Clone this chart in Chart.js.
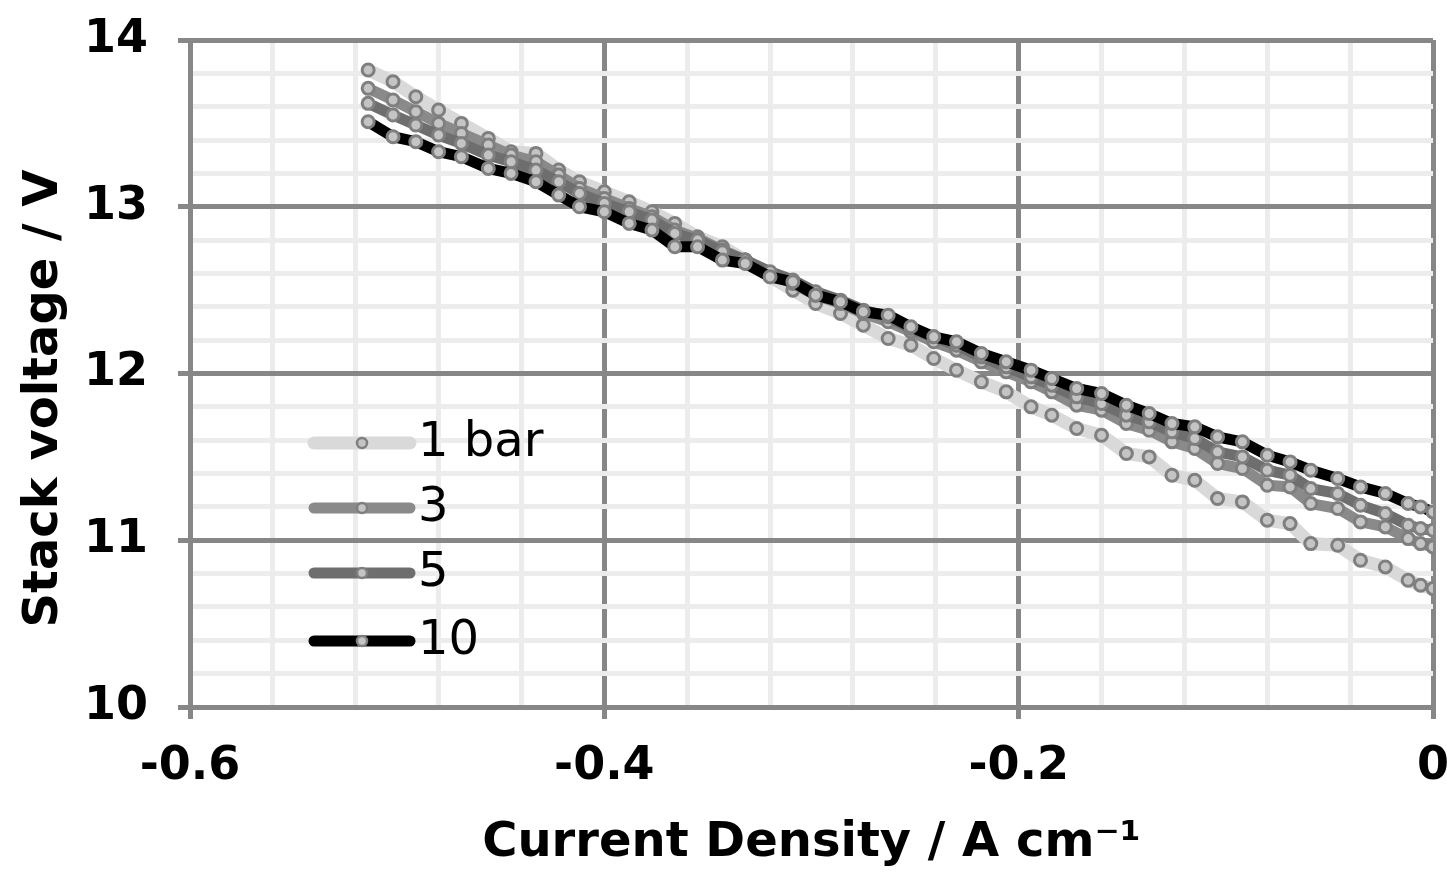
<!DOCTYPE html>
<html>
<head>
<meta charset="utf-8">
<script src="https://cdn.jsdelivr.net/npm/chart.js@4/dist/chart.umd.min.js"></script>
<style>
  html, body { margin: 0; padding: 0; background: #fff; }
  #wrap { width: 1447px; height: 874px; }
</style>
</head>
<body>
<div id="wrap"><canvas id="polChart" width="1447" height="874"></canvas></div>
<script>
// current density, A cm-1 (same for every pressure)
const currentDensity = [-0.514, -0.502, -0.491, -0.480, -0.469, -0.456, -0.445, -0.433, -0.422, -0.412,
  -0.400, -0.388, -0.377, -0.366, -0.355, -0.343, -0.332, -0.320, -0.309, -0.298,
  -0.286, -0.275, -0.263, -0.252, -0.241, -0.230, -0.218, -0.206, -0.194, -0.184,
  -0.172, -0.160, -0.148, -0.137, -0.126, -0.115, -0.104, -0.092, -0.080, -0.069,
  -0.059, -0.046, -0.035, -0.023, -0.012, -0.006, 0];

// stack voltage, V
const voltage1bar = [13.82, 13.75, 13.66, 13.58, 13.50, 13.41, 13.33, 13.32, 13.22, 13.15,
  13.09, 13.03, 12.97, 12.90, 12.82, 12.76, 12.68, 12.58, 12.50, 12.42,
  12.36, 12.29, 12.21, 12.17, 12.09, 12.02, 11.95, 11.89, 11.80, 11.75,
  11.67, 11.63, 11.52, 11.50, 11.39, 11.36, 11.25, 11.23, 11.12, 11.10,
  10.98, 10.97, 10.88, 10.84, 10.76, 10.73, 10.71];
const voltage3bar = [13.71, 13.64, 13.57, 13.50, 13.44, 13.37, 13.31, 13.27, 13.19, 13.11,
  13.05, 12.99, 12.94, 12.86, 12.81, 12.74, 12.68, 12.60, 12.54, 12.47,
  12.42, 12.36, 12.31, 12.25, 12.19, 12.14, 12.07, 12.01, 11.95, 11.89,
  11.81, 11.78, 11.70, 11.66, 11.59, 11.55, 11.46, 11.43, 11.33, 11.32,
  11.22, 11.19, 11.11, 11.08, 11.01, 10.98, 10.96];
const voltage5bar = [13.62, 13.55, 13.49, 13.43, 13.38, 13.31, 13.27, 13.22, 13.15, 13.08,
  13.02, 12.97, 12.92, 12.84, 12.80, 12.73, 12.68, 12.61, 12.56, 12.49,
  12.44, 12.38, 12.34, 12.27, 12.22, 12.17, 12.10, 12.04, 11.98, 11.93,
  11.86, 11.82, 11.75, 11.71, 11.65, 11.61, 11.53, 11.50, 11.42, 11.39,
  11.31, 11.28, 11.21, 11.16, 11.09, 11.07, 11.06];
const voltage10bar = [13.51, 13.42, 13.39, 13.33, 13.30, 13.23, 13.20, 13.15, 13.07, 13.00,
  12.97, 12.90, 12.86, 12.76, 12.76, 12.68, 12.66, 12.58, 12.55, 12.47,
  12.43, 12.37, 12.35, 12.28, 12.22, 12.19, 12.12, 12.07, 12.02, 11.97,
  11.91, 11.88, 11.81, 11.76, 11.70, 11.68, 11.62, 11.59, 11.51, 11.47,
  11.42, 11.37, 11.32, 11.28, 11.22, 11.20, 11.17];

const seriesLabels = ["1 bar", "3", "5", "10"];
const seriesColors = ["#d9d9d9", "#8a8a8a", "#6e6e6e", "#000000"];
const seriesValues = [voltage1bar, voltage3bar, voltage5bar, voltage10bar];

const xMajorStep = 0.2;
const yMajorStep = 1;

function isMajor(v, step) {
  const r = v / step;
  return Math.abs(r - Math.round(r)) < 1e-6;
}

const datasets = seriesValues.map((vals, i) => ({
  label: seriesLabels[i],
  data: currentDensity.map((x, k) => ({ x: x, y: vals[k] })),
  borderColor: seriesColors[i],
  backgroundColor: seriesColors[i],
  borderWidth: i === 0 ? 13 : 11,
  pointRadius: 6,
  pointBorderWidth: 3,
  pointBorderColor: "#7f7f7f",
  pointBackgroundColor: "#c4c4c4",
  tension: 0,
  order: seriesLabels.length - i
}));

// legend sits inside the plot, drawn by hand like the original
const insideLegend = {
  id: "insideLegend",
  afterDatasetsDraw(chart) {
    const ctx = chart.ctx;
    const rows = [443, 508, 573, 641];
    ctx.save();
    seriesLabels.forEach((label, i) => {
      const y = rows[i];
      ctx.strokeStyle = seriesColors[i];
      ctx.lineWidth = i === 0 ? 13 : 11;
      ctx.lineCap = "round";
      ctx.beginPath();
      ctx.moveTo(314, y);
      ctx.lineTo(410, y);
      ctx.stroke();
      ctx.beginPath();
      ctx.arc(362, y, 5, 0, Math.PI * 2);
      ctx.fillStyle = "#c4c4c4";
      ctx.fill();
      ctx.lineWidth = 2.5;
      ctx.strokeStyle = "#7f7f7f";
      ctx.stroke();
      ctx.fillStyle = "#000";
      ctx.font = "48px 'DejaVu Sans'";
      ctx.textBaseline = "middle";
      ctx.textAlign = "left";
      ctx.fillText(label, 418, y + 1);
    });
    ctx.restore();
  }
};

const gridMajor = "#878787";
const gridMinor = "#ececec";

const polCtx = document.getElementById("polChart").getContext("2d");
const polChart = new Chart(polCtx, {
  type: "line",
  data: { datasets: datasets },
  options: {
    responsive: false,
    animation: false,
    layout: { padding: { left: 0, right: 0, top: 40, bottom: 0 } },
    plugins: {
      legend: { display: false },
      tooltip: { enabled: false }
    },
    scales: {
      x: {
        type: "linear",
        min: -0.6,
        max: 0,
        afterFit: (s) => { s.height = 167; s.paddingLeft = 0; s.paddingRight = 14; },
        ticks: {
          stepSize: 0.04,
          autoSkip: false,
          maxRotation: 0,
          padding: 20,
          color: "#000",
          font: { family: "DejaVu Sans", weight: "bold", size: 46 },
          callback: (v) => isMajor(v, xMajorStep) ? String(Math.round(v * 10) / 10) : ""
        },
        grid: {
          color: (c) => c.tick && isMajor(c.tick.value, xMajorStep) ? gridMajor : gridMinor,
          lineWidth: 5,
          tickLength: 12,
          tickColor: (c) => c.tick && isMajor(c.tick.value, xMajorStep) ? gridMajor : "rgba(0,0,0,0)"
        },
        border: { display: true, color: gridMajor, width: 5 },
        title: {
          display: true,
          text: "Current Density / A cm\u207B\u00B9",
          color: "#000",
          font: { family: "DejaVu Sans", weight: "bold", size: 48 },
          padding: { top: 0, bottom: 2 }
        }
      },
      y: {
        type: "linear",
        min: 10,
        max: 14,
        afterFit: (s) => { s.width = 190; s.paddingTop = 0; s.paddingBottom = 0; },
        ticks: {
          stepSize: 0.2,
          autoSkip: false,
          padding: 30,
          color: "#000",
          font: { family: "DejaVu Sans", weight: "bold", size: 46 },
          callback: (v) => isMajor(v, yMajorStep) ? String(Math.round(v)) : ""
        },
        grid: {
          color: (c) => c.tick && isMajor(c.tick.value, yMajorStep) ? gridMajor : gridMinor,
          lineWidth: 5,
          tickLength: 12,
          tickColor: (c) => c.tick && isMajor(c.tick.value, yMajorStep) ? gridMajor : "rgba(0,0,0,0)"
        },
        border: { display: true, color: gridMajor, width: 5 },
        title: {
          display: true,
          text: "Stack voltage / V\u00A0\u00A0\u00A0",
          color: "#000",
          font: { family: "DejaVu Sans", weight: "bold", size: 48 },
          padding: { top: 16, bottom: 0 }
        }
      }
    }
  },
  plugins: [insideLegend]
});
</script>
</body>
</html>
